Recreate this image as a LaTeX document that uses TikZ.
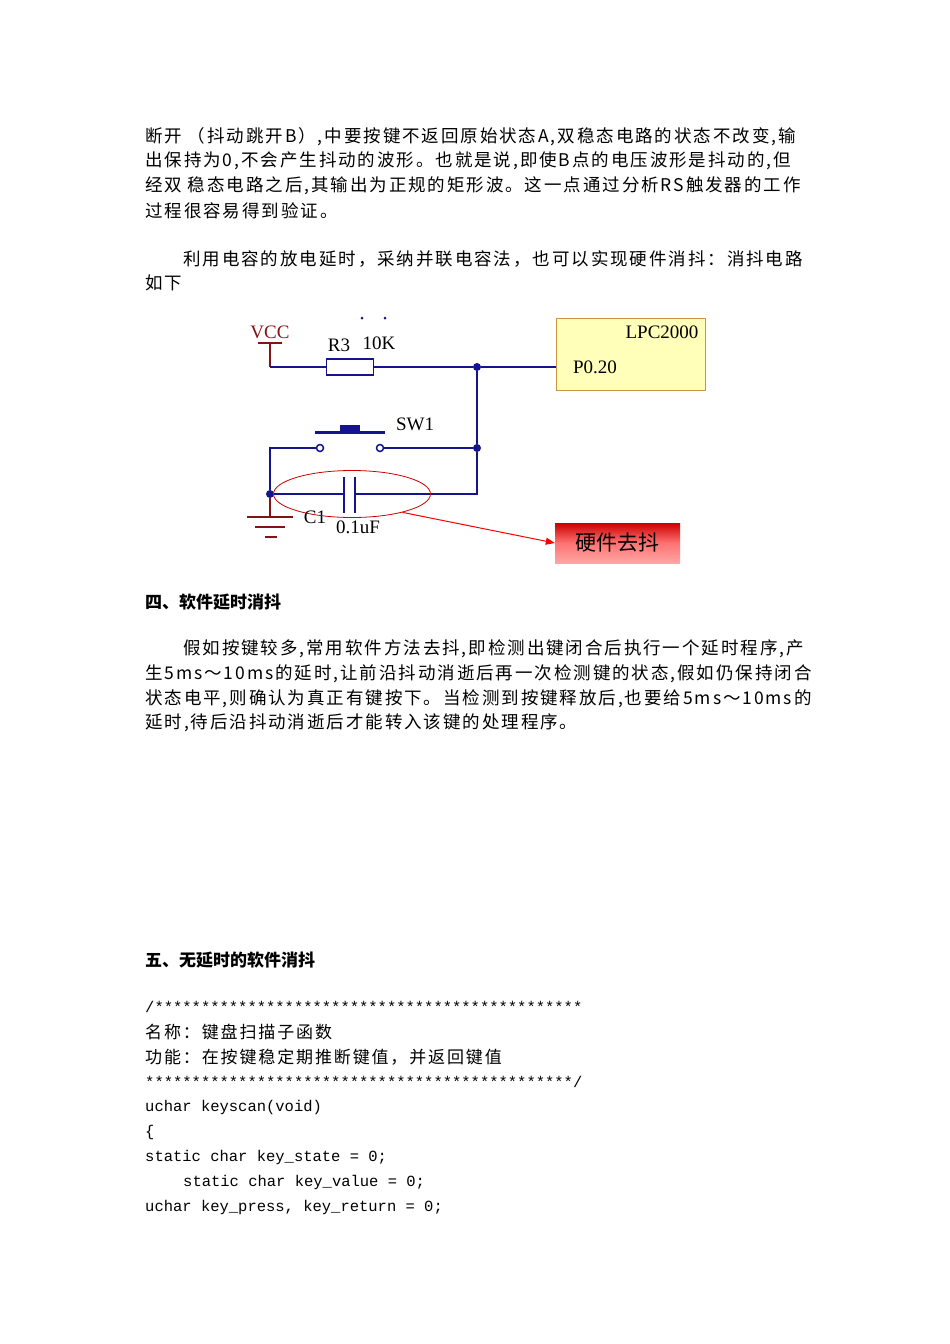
\documentclass[tikz,border=0pt]{standalone}
\usepackage{fontspec}
\setmainfont{Noto Sans CJK SC}
\newfontfamily\spaced[LetterSpace=11]{Noto Sans CJK SC}
\newfontfamily\codefont{Liberation Mono}
\newfontfamily\cirfont{Liberation Serif}
\usetikzlibrary{arrows.meta,shapes.geometric}
\definecolor{wire}{RGB}{20,20,140}
\definecolor{pwr}{RGB}{130,20,20}
\definecolor{chipfill}{RGB}{255,255,185}
\definecolor{chipline}{RGB}{200,150,60}
\begin{document}
\begin{tikzpicture}[x=1pt,y=-1pt,
  txt/.style={anchor=west,inner sep=0pt,font=\fontsize{17.5}{20}\spaced},
  hd/.style={anchor=west,inner sep=0pt,font=\fontsize{17}{20}\selectfont\bfseries},
  code/.style={anchor=west,inner sep=0pt,font=\fontsize{15.5}{18}\codefont},
  codecn/.style={anchor=west,inner sep=0pt,font=\fontsize{17}{20}\spaced},
  w/.style={wire,line width=2pt},
  lab/.style={inner sep=0pt,font=\fontsize{19}{22}\cirfont},
  dot/.style={circle,fill=wire,inner sep=0pt,minimum size=8pt}]
\useasboundingbox[fill=white] (0,0) rectangle (950,1344);
\node[txt] (l1) at (145,137) {断开 （抖动跳开B）,中要按键不返回原始状态A,双稳态电路的状态不改变,输};
\node[txt] (l2) at (145,161) {出保持为0,不会产生抖动的波形。也就是说,即使B点的电压波形是抖动的,但};
\node[txt] (l3) at (145,186) {经双 稳态电路之后,其输出为正规的矩形波。这一点通过分析RS触发器的工作};
\node[txt] (l4) at (145,211) {过程很容易得到验证。};
\node[txt] (l5) at (183,259) {利用电容的放电延时，采纳并联电容法，也可以实现硬件消抖：消抖电路};
\node[txt] (l6) at (145,283) {如下};
\node[hd] (h4) at (145,602) {四、软件延时消抖};
\node[txt] (m1) at (183,649) {假如按键较多,常用软件方法去抖,即检测出键闭合后执行一个延时程序,产};
\node[txt] (m2) at (145,674) {生5ms～10ms的延时,让前沿抖动消逝后再一次检测键的状态,假如仍保持闭合};
\node[txt] (m3) at (145,699) {状态电平,则确认为真正有键按下。当检测到按键释放后,也要给5ms～10ms的};
\node[txt] (m4) at (145,723) {延时,待后沿抖动消逝后才能转入该键的处理程序。};
\node[hd] (h5) at (145,960) {五、无延时的软件消抖};
\node[code] (c1) at (145,1007) {/**********************************************};
\node[codecn] (c2) at (145,1032) {名称：键盘扫描子函数};
\node[codecn] (c3) at (145,1057) {功能：在按键稳定期推断键值，并返回键值};
\node[code] (c4) at (145,1082) {**********************************************/};
\node[code] (c5) at (145,1107) {uchar keyscan(void)};
\node[code] (c6) at (145,1132) {\{};
\node[code] (c7) at (145,1157) {static char key\_state = 0;};
\node[code] (c8) at (183,1182) {static char key\_value = 0;};
\node[code] (c9) at (145,1207) {uchar key\_press, key\_return = 0;};
% circuit
\node[draw=chipline,fill=chipfill,line width=1pt,minimum width=149pt,minimum height=72pt,anchor=north west,inner sep=0pt] (chip) at (556,318) {};
\node[lab] (lpc) at (662,332) {LPC2000};
\node[lab] (p020) at (595,367) {P0.20};
\coordinate (chipin) at (556,367);
\node[lab,pwr] (vcc) at (270,332) {VCC};
\coordinate (vccb) at (270,343);
\draw[pwr,line width=2pt] (258,343) -- (282,343) (vccb) -- (270,367);
\node[draw=wire,line width=1.5pt,minimum width=47pt,minimum height=16pt,inner sep=0pt] (r3) at (350,367) {};
\node[lab] (r3l) at (339,345) {R3};
\node[lab] (r3v) at (379,343) {10K};
\node[dot] (j1) at (477,367) {};
\node[dot] (j2) at (477,448) {};
\node[dot] (j3) at (270,494) {};
\draw[w] (270,367) -- (r3.west);
\draw[w] (r3.east) -- (j1) -- (chipin);
\draw[w] (j1) -- (j2) -- (477,494) -- (355,494);
\node[circle,draw=wire,line width=1.5pt,inner sep=0pt,minimum size=7pt] (s1) at (320,448) {};
\node[circle,draw=wire,line width=1.5pt,inner sep=0pt,minimum size=7pt] (s2) at (380,448) {};
\draw[w] (j2) -- (s2.east);
\draw[w] (s1.west) -- (270,448) -- (j3) -- (344,494);
\draw[wire,line width=3pt] (315,432) -- (385,432);
\fill[wire] (340,425) rectangle (360,432);
\node[lab] (sw1) at (415,424) {SW1};
\draw[wire,line width=2.5pt] (344,477) -- (344,513) (355,477) -- (355,513);
\node[lab] (c1l) at (315,517) {C1};
\node[lab] (c1v) at (358,527) {0.1uF};
\draw[pwr,line width=2pt] (j3) -- (270,517) (247,517) -- (293,517) (255,527) -- (285,527) (265,537) -- (277,537);
\fill[wire] (362,318) circle (1.5pt) (385,318) circle (1.5pt);
\node[draw=red!80!black,line width=0.8pt,ellipse,minimum width=157pt,minimum height=47pt,inner sep=0pt] (ell) at (352,494) {};
\node[inner sep=0pt,minimum width=125pt,minimum height=40pt,top color=red!80!black,bottom color=red!35,middle color=red!55,font=\fontsize{21}{24}\selectfont] (hw) at (617.5,543) {硬件去抖};
\draw[red,line width=1pt,-{Triangle[length=9pt,width=7pt]}] (ell.-20) -- (hw.west);
\end{tikzpicture}
\end{document}
